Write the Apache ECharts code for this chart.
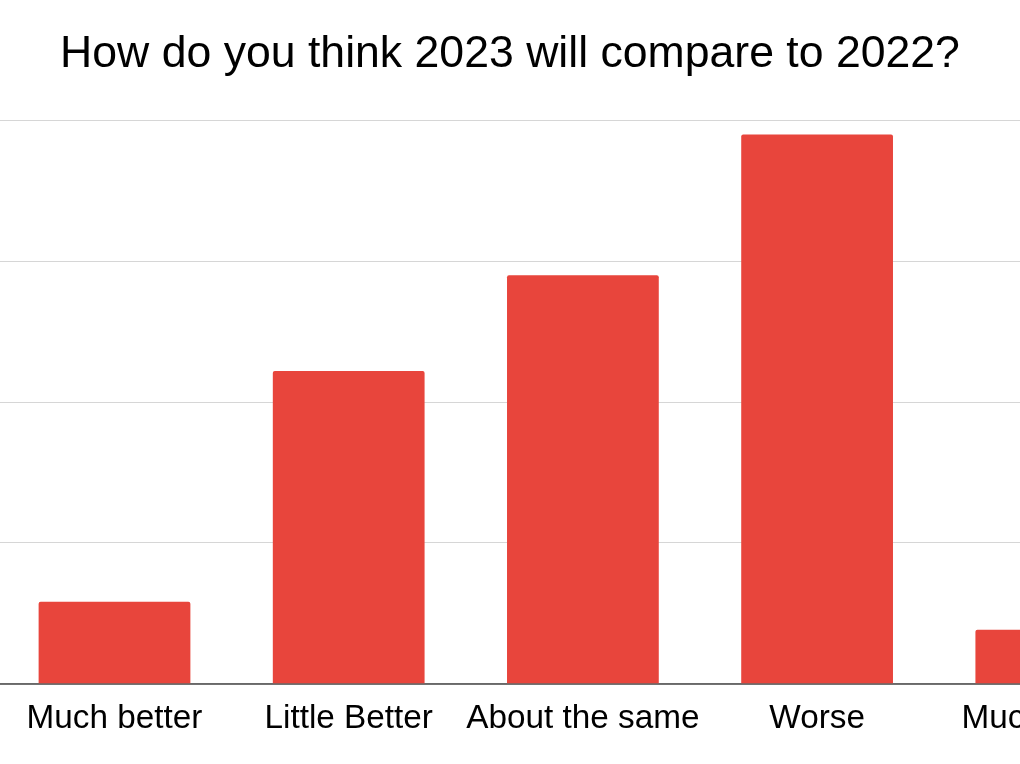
<!DOCTYPE html>
<html>
<head>
<meta charset="utf-8">
<script src="https://cdn.jsdelivr.net/npm/echarts@6/dist/echarts.min.js"></script>
<style>
html,body{margin:0;padding:0;background:#fff;}
#chart{width:1020px;height:764px;}
</style>
</head>
<body>
<div id="chart"></div>
<script>
var titleText = 'How do you think 2023 will compare to 2022?';
var categories = ['Much better', 'Little Better', 'About the same', 'Worse', 'Much worse'];
var values = [2.9, 11.1, 14.5, 19.5, 1.9];

var chart = echarts.init(document.getElementById('chart'), null, {renderer: 'canvas'});
chart.setOption({
  backgroundColor: '#ffffff',
  animation: false,
  title: {
    text: titleText,
    left: 'center',
    top: 27,
    textStyle: {
      fontFamily: 'Liberation Sans, Arial, sans-serif',
      fontSize: 44.6,
      fontWeight: 'normal',
      color: '#000000'
    }
  },
  grid: {
    left: -2.6,
    right: -148.4,
    top: 120.5,
    bottom: 80.7,
    containLabel: false,
    outerBoundsMode: 'none'
  },
  xAxis: {
    type: 'category',
    data: categories,
    axisLine: {show: true, lineStyle: {color: '#444444', width: 1.5}},
    axisTick: {show: false},
    axisLabel: {
      interval: 0,
      margin: 19,
      fontFamily: 'Liberation Sans, Arial, sans-serif',
      fontSize: 33.3,
      color: '#000000'
    }
  },
  yAxis: {
    type: 'value',
    min: 0,
    max: 20,
    interval: 5,
    axisLine: {show: false},
    axisTick: {show: false},
    axisLabel: {show: false},
    splitLine: {show: true, lineStyle: {color: '#d6d6d6', width: 1.2}}
  },
  series: [{
    type: 'bar',
    data: values,
    barCategoryGap: '35.2%',
    itemStyle: {color: '#e8453c', borderRadius: [2, 2, 0, 0]}
  }]
});
</script>
</body>
</html>
